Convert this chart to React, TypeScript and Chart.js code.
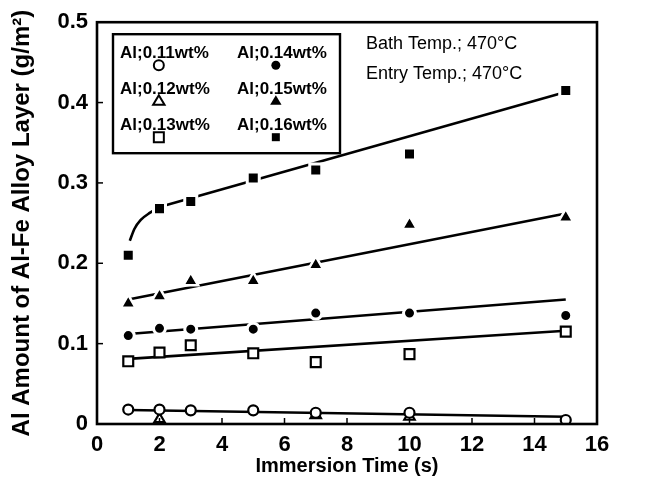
import React, { useEffect, useRef } from "react";
import { Chart, registerables } from "chart.js";

Chart.register(...registerables);

// ---- data ----
const times = [1, 2, 3, 5, 7, 10, 15];
const al011 = [0.018, 0.018, 0.017, 0.017, 0.014, 0.014, 0.005];
const al012Times = [2, 7, 10];
const al012 = [0.006, 0.011, 0.009];
const al013 = [0.078, 0.089, 0.098, 0.088, 0.077, 0.087, 0.115];
const al014 = [0.11, 0.119, 0.118, 0.118, 0.138, 0.138, 0.135];
const al015 = [0.15, 0.159, 0.178, 0.178, 0.198, 0.248, 0.257];
const al016 = [0.21, 0.268, 0.277, 0.306, 0.316, 0.336, 0.415];

// fitted lines (end points)
const fitX = [1, 15];
const fit011 = [0.0175, 0.009];
const fit013 = [0.081, 0.116];
const fit014 = [0.112, 0.155];
const fit015 = [0.155, 0.262];
const fit016CurveX = [1.05, 1.2, 1.4, 1.7, 2];
const fit016Curve = [0.228, 0.243, 0.254, 0.263, 0.27];
const fit016LineX = [2, 15];
const fit016Line = [0.27, 0.413];

const xTicks = [0, 2, 4, 6, 8, 10, 12, 14, 16];
const yTicks = [0, 0.1, 0.2, 0.3, 0.4, 0.5];

const legendLabels = [
  ["Al;0.11wt%", "Al;0.14wt%"],
  ["Al;0.12wt%", "Al;0.15wt%"],
  ["Al;0.13wt%", "Al;0.16wt%"],
];
const notes = ["Bath Temp.; 470°C", "Entry Temp.; 470°C"];

const FONT = "'Liberation Sans', Arial, Helvetica, sans-serif";

const pts = (xs: number[], ys: number[]) => xs.map((x, i) => ({ x, y: ys[i] }));

function pointSet(label: string, data: any[], style: string, filled: boolean, radius: number, bw?: number) {
  return {
    label,
    data,
    showLine: false,
    pointStyle: style,
    pointRadius: radius,
    pointBackgroundColor: filled ? "#000" : "#fff",
    pointBorderColor: filled ? "#fff" : "#000",
    pointBorderWidth: bw ?? (filled ? 3 : 2.2),
    borderColor: "#000",
    order: 0,
  };
}

function lineSet(label: string, data: any[], smooth = false) {
  return {
    label,
    data,
    showLine: true,
    pointRadius: 0,
    borderColor: "#000",
    borderWidth: 2.6,
    tension: smooth ? 0.4 : 0,
    cubicInterpolationMode: smooth ? "monotone" : "default",
    order: 1,
  };
}

function drawMarker(ctx: CanvasRenderingContext2D, kind: string, filled: boolean, x: number, y: number) {
  ctx.save();
  ctx.lineWidth = 2;
  ctx.strokeStyle = "#000";
  ctx.fillStyle = filled ? "#000" : "#fff";
  ctx.beginPath();
  if (kind === "circle") {
    ctx.arc(x, y, filled ? 4.5 : 5, 0, Math.PI * 2);
  } else if (kind === "triangle") {
    const r = 6;
    ctx.moveTo(x, y - r);
    ctx.lineTo(x + r * 0.95, y + r * 0.6);
    ctx.lineTo(x - r * 0.95, y + r * 0.6);
    ctx.closePath();
  } else {
    const s = filled ? 4 : 5;
    ctx.rect(x - s, y - s, 2 * s, 2 * s);
  }
  ctx.fill();
  if (!filled) ctx.stroke();
  ctx.restore();
}

const framePlugin = {
  id: "frameDecor",
  afterDraw(chart: any) {
    const ctx = chart.ctx as CanvasRenderingContext2D;
    const a = chart.chartArea;
    const xs = chart.scales.x;
    const ys = chart.scales.y;
    ctx.save();
    // inward ticks
    ctx.strokeStyle = "#000";
    ctx.lineWidth = 1.5;
    xTicks.slice(1, -1).forEach((v) => {
      const px = xs.getPixelForValue(v);
      ctx.beginPath();
      ctx.moveTo(px, a.bottom);
      ctx.lineTo(px, a.bottom - 6);
      ctx.stroke();
    });
    yTicks.slice(1, -1).forEach((v) => {
      const py = ys.getPixelForValue(v);
      ctx.beginPath();
      ctx.moveTo(a.left, py);
      ctx.lineTo(a.left + 6, py);
      ctx.stroke();
    });
    // frame
    ctx.lineWidth = 2.6;
    ctx.strokeRect(a.left, a.top, a.right - a.left, a.bottom - a.top);

    // legend box
    const bx = a.left + 16;
    const by = a.top + 12;
    const bw = 227;
    const bh = 119;
    ctx.fillStyle = "#fff";
    ctx.fillRect(bx, by, bw, bh);
    ctx.lineWidth = 2.4;
    ctx.strokeRect(bx, by, bw, bh);
    ctx.font = `bold 17px ${FONT}`;
    ctx.fillStyle = "#000";
    ctx.textBaseline = "middle";
    ctx.textAlign = "left";
    const kinds = ["circle", "triangle", "rect"];
    legendLabels.forEach((row, r) => {
      row.forEach((txt, c) => {
        const tx = bx + 7 + c * 117;
        const ty = by + 19 + r * 36;
        ctx.fillStyle = "#000";
        ctx.fillText(txt, tx, ty);
        const pre = ctx.measureText("Al;0.").width;
        drawMarker(ctx, kinds[r], c === 1, tx + pre + 2, ty + 12);
      });
    });

    // annotations
    ctx.font = `18px ${FONT}`;
    ctx.fillStyle = "#000";
    ctx.textBaseline = "middle";
    notes.forEach((t, i) => {
      ctx.fillText(t, 366, 44 + i * 30);
    });
    ctx.restore();
  },
};

export default function App() {
  const ref = useRef<HTMLCanvasElement | null>(null);
  useEffect(() => {
    if (!ref.current) return;
    const chart = new Chart(ref.current, {
      type: "scatter",
      data: {
        datasets: [
          pointSet("Al;0.11wt%", pts(times, al011), "circle", false, 5),
          pointSet("Al;0.12wt%", pts(al012Times, al012), "triangle", false, 6),
          pointSet("Al;0.13wt%", pts(times, al013), "rect", false, 7),
          pointSet("Al;0.14wt%", pts(times, al014), "circle", true, 6),
          pointSet("Al;0.15wt%", pts(times, al015), "triangle", true, 8.5, 2.5),
          pointSet("Al;0.16wt%", pts(times, al016), "rect", true, 8.5),
          lineSet("fit 0.11", pts(fitX, fit011)),
          lineSet("fit 0.13", pts(fitX, fit013)),
          lineSet("fit 0.14", pts(fitX, fit014)),
          lineSet("fit 0.15", pts(fitX, fit015)),
          lineSet("fit 0.16 a", pts(fit016CurveX, fit016Curve), true),
          lineSet("fit 0.16 b", pts(fit016LineX, fit016Line)),
        ] as any,
      },
      options: {
        responsive: false,
        animation: false,
        layout: { padding: { left: 0, right: 54, top: 16, bottom: 0 } },
        plugins: { legend: { display: false }, tooltip: { enabled: false } },
        scales: {
          x: {
            type: "linear",
            min: 0,
            max: 16,
            afterFit: (s: any) => {
              s.height = 66;
            },
            afterBuildTicks: (s: any) => {
              s.ticks = xTicks.map((v) => ({ value: v }));
            },
            grid: { display: false, drawTicks: false },
            border: { display: false },
            ticks: {
              color: "#000",
              padding: 8,
              font: { family: FONT, size: 22, weight: "bold" },
              maxRotation: 0,
            },
            title: {
              display: true,
              text: "Immersion Time (s)",
              color: "#000",
              font: { family: FONT, size: 20, weight: "bold" },
              padding: { top: 0, bottom: 12 },
            },
          },
          y: {
            type: "linear",
            min: 0,
            max: 0.5,
            afterFit: (s: any) => {
              s.width = 97;
            },
            afterBuildTicks: (s: any) => {
              s.ticks = yTicks.map((v) => ({ value: v }));
            },
            grid: { display: false, drawTicks: false },
            border: { display: false },
            ticks: {
              color: "#000",
              padding: 9,
              font: { family: FONT, size: 22, weight: "bold" },
            },
            title: {
              display: true,
              text: "Al Amount of Al-Fe Alloy Layer (g/m²)",
              color: "#000",
              font: { family: FONT, size: 24, weight: "bold" },
              padding: { top: 8, bottom: 0 },
            },
          },
        },
      },
      plugins: [framePlugin],
    });
    return () => chart.destroy();
  }, []);
  return (
    <div style={{ position: "absolute", left: 0, top: 0, width: 651, height: 490, background: "#fff" }}>
      <canvas ref={ref} width={651} height={490} style={{ width: 651, height: 490 }} />
    </div>
  );
}
